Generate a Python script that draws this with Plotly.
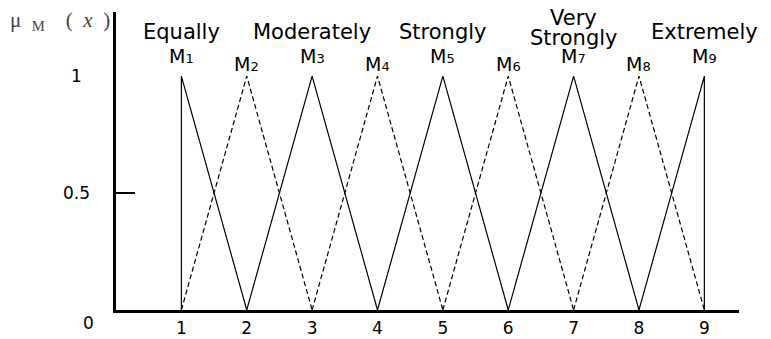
import plotly.graph_objects as go

# membership functions M1..M9 (triangular, feet clipped to [1, 9])
names = ["M1", "M2", "M3", "M4", "M5", "M6", "M7", "M8", "M9"]
left = [1, 1, 2, 3, 4, 5, 6, 7, 8]
peak = [1, 2, 3, 4, 5, 6, 7, 8, 9]
right = [2, 3, 4, 5, 6, 7, 8, 9, 9]
mu = [0, 1, 0]

# linguistic terms above the odd peaks
terms = ["Equally", "Moderately", "Strongly", "Very<br>Strongly", "Extremely"]
term_x = [1, 3, 5, 7, 9]

x_ticks = [1, 2, 3, 4, 5, 6, 7, 8, 9]
y_labels = [0.5, 1]

FONT = "DejaVu Sans"

fig = go.Figure()
for i, name in enumerate(names):
    dashed = i % 2 == 1
    fig.add_trace(go.Scatter(
        x=[left[i], peak[i], right[i]], y=mu,
        mode="lines", name=name, showlegend=False,
        line=dict(color="black", width=1.2, dash="5px,3px" if dashed else "solid"),
    ))
    fig.add_annotation(
        x=peak[i], y=1, xref="x", yref="y",
        text=f"M<span style='font-size:13px'>{name[1:]}</span>",
        showarrow=False, yanchor="bottom", yshift=-1 if dashed else 7,
        font=dict(family=FONT, size=19, color="black"),
    )

for t, xv in zip(terms, term_x):
    lines = t.split("<br>")
    for j, part in enumerate(lines):
        # two-line terms are stacked around the same centre, nudged up a bit
        shift = (len(lines) - 1) * 14 - j * 20
        fig.add_annotation(
            x=xv, y=1.19, xref="x", yref="y", text=part, showarrow=False,
            yanchor="middle", yshift=shift,
            font=dict(family=FONT, size=21, color="black"),
        )

# y labels sit well left of the axis
for v in y_labels:
    fig.add_annotation(
        x=0, y=v, xref="x", yref="y", text=str(v), showarrow=False,
        xshift=-40, font=dict(family=FONT, size=17, color="black"),
    )
fig.add_annotation(
    x=0, y=0, xref="x", yref="y", text="0", showarrow=False,
    xshift=-28, yshift=-13, font=dict(family=FONT, size=17, color="black"),
)

# axis title in the top-left corner
fig.add_annotation(
    x=0, y=1, xref="paper", yref="paper", xanchor="left", yanchor="top",
    text="μ  <sub>M</sub>    (  <i>x</i>  )", showarrow=False, xshift=-108, yshift=6,
    font=dict(family="Liberation Serif", size=21, color="#444444"),
)

fig.update_xaxes(
    range=[0, 9.53], tickvals=x_ticks, ticks="", showgrid=False, zeroline=False,
    showline=True, linecolor="black", linewidth=3, ticklabelstandoff=1,
    tickfont=dict(family=FONT, size=17, color="black"), automargin=False,
)
fig.update_yaxes(
    range=[0, 1.274], tickvals=[0.5], ticks="inside", ticklen=19, tickwidth=2,
    tickcolor="black", showticklabels=False, showgrid=False, zeroline=False,
    showline=True, linecolor="black", linewidth=3, automargin=False,
)
# page body adds an 8px margin; size the figure to the visible part of the window
fig.update_layout(
    width=763, height=331,
    margin=dict(l=108, r=32, t=4, b=29),
    paper_bgcolor="white", plot_bgcolor="white",
)

fig.write_html("out.html")
